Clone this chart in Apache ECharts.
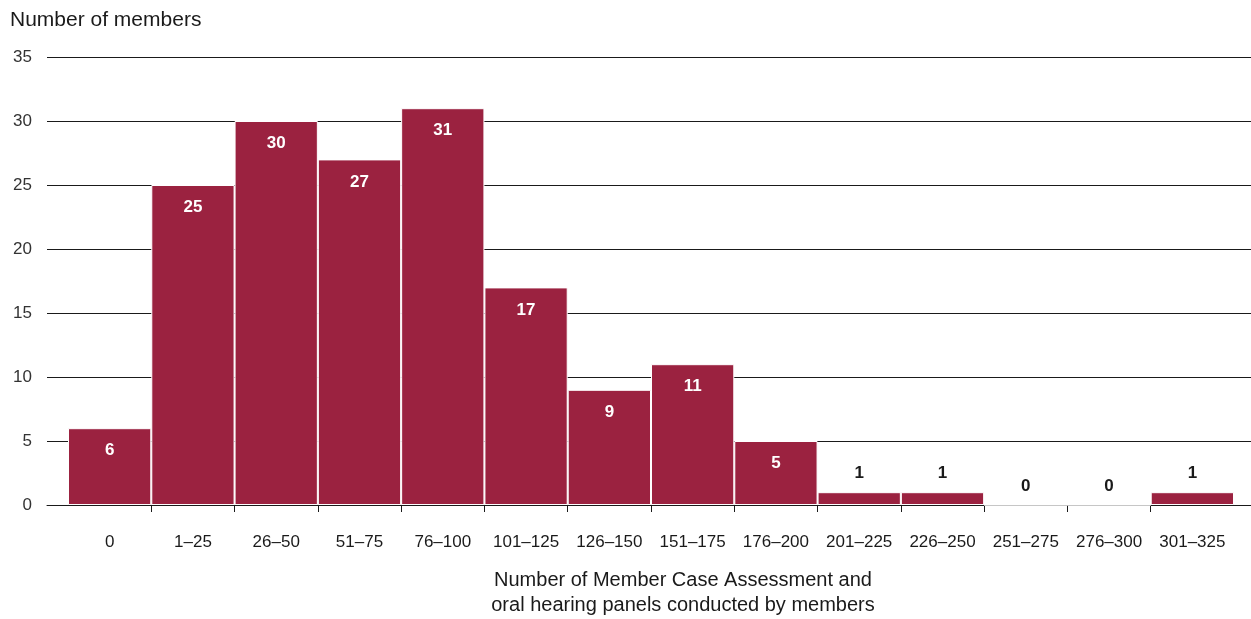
<!DOCTYPE html>
<html>
<head>
<meta charset="utf-8">
<title>Number of members by panels conducted</title>
<script src="https://cdn.jsdelivr.net/npm/echarts@6/dist/echarts.min.js"></script>
<style>
  html, body { margin: 0; padding: 0; background: #fff; }
  #chart { width: 1251px; height: 619px; }
</style>
</head>
<body>
<div id="chart"></div>
<script>
// Panel-count bands (x axis) and how many members fall in each band
const categories = ['0', '1–25', '26–50', '51–75', '76–100', '101–125', '126–150',
  '151–175', '176–200', '201–225', '226–250', '251–275', '276–300', '301–325'];
const members = [6, 25, 30, 27, 31, 17, 9, 11, 5, 1, 1, 0, 0, 1];

// Value axis range
const yMin = 0;
const yMax = 35;
const yStep = 5;

const yTitle = 'Number of members';
const xTitle = 'Number of Member Case Assessment and\noral hearing panels conducted by members';

const FONT = '"Liberation Sans", Arial, Helvetica, sans-serif';
const BAR = '#9b2240';
const INK = '#1a1a1a';

// Short bars carry their value above the bar, tall ones inside it
const barData = members.map(v => ({
  value: v,
  label: v >= 5
    ? { position: 'insideTop', distance: 14, color: '#fff' }
    : { position: 'top', distance: 10, color: INK }
}));

// Tick marks sit on the inner boundaries between bands
const boundaryTicks = categories.slice(1).map((_, i) => i + 1);

const chart = echarts.init(document.getElementById('chart'), null, { renderer: 'canvas' });

chart.setOption({
  animation: false,
  textStyle: { fontFamily: FONT },
  grid: [
    // wide frame: gridlines, baseline, value labels
    { left: 47, right: 0, top: 57, bottom: 114 },
    // bars
    { left: 68, right: 17, top: 57, bottom: 114 }
  ],
  xAxis: [
    {
      gridIndex: 0, type: 'value', min: 0, max: 1, position: 'bottom',
      axisLine: { show: true, lineStyle: { color: INK, width: 1 } },
      axisTick: { show: false }, axisLabel: { show: false }, splitLine: { show: false }
    },
    {
      gridIndex: 1, type: 'category', data: categories, position: 'bottom',
      axisLine: { show: false }, axisTick: { show: false },
      axisLabel: { interval: 0, margin: 29, fontSize: 17, color: INK, fontFamily: FONT },
      splitLine: { show: false }
    },
    {
      gridIndex: 1, type: 'value', min: 0, max: categories.length, position: 'bottom',
      axisLine: { show: false },
      axisTick: { show: true, length: 7, customValues: boundaryTicks, lineStyle: { color: INK, width: 1 } },
      axisLabel: { show: false }, splitLine: { show: false }
    }
  ],
  yAxis: [
    {
      gridIndex: 0, type: 'value', min: yMin, max: yMax, interval: yStep,
      axisLine: { show: false }, axisTick: { show: false },
      axisLabel: { margin: 15, fontSize: 17, color: '#333', fontFamily: FONT },
      splitLine: { show: true, lineStyle: { color: INK, width: 1 } }
    },
    {
      gridIndex: 1, type: 'value', min: yMin, max: yMax, interval: yStep,
      show: false
    }
  ],
  series: [
    {
      type: 'bar',
      xAxisIndex: 1, yAxisIndex: 1,
      data: barData,
      barCategoryGap: 0,
      itemStyle: { color: BAR, borderColor: '#fff', borderWidth: 1 },
      label: { show: true, fontSize: 17, fontWeight: 'bold', fontFamily: FONT },
      z: 3
    }
  ],
  graphic: [
    {
      type: 'text', left: 10, top: 10,
      style: { text: yTitle, fontSize: 21, fontFamily: FONT, fill: INK }
    },
    {
      type: 'text', x: 683, y: 568,
      style: {
        text: xTitle, fontSize: 20, lineHeight: 25, fontFamily: FONT, fill: INK,
        textAlign: 'center', textVerticalAlign: 'top'
      }
    }
  ]
});
</script>
</body>
</html>
